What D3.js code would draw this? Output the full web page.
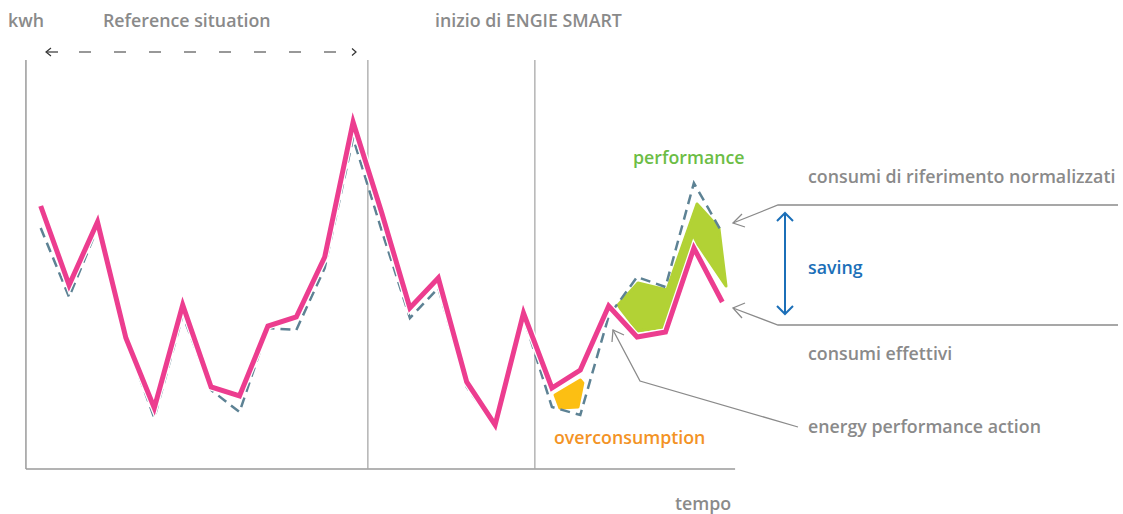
<!DOCTYPE html>
<html>
<head>
<meta charset="utf-8">
<script src="https://cdn.jsdelivr.net/npm/d3@7"></script>
<style>
  body { margin: 0; background: #fff; }
  text { font-family: "Open Sans", sans-serif; font-weight: 600; }
</style>
</head>
<body>
<script>
// consumi effettivi (kwh), one value per period
const actual = [263, 184, 247, 131, 61, 164, 82, 73, 143, 152, 212, 347, 257,
  161, 191, 87, 44, 156, 81, 99, 163, 132, 137, 221, 167];
// consumi di riferimento normalizzati
const reference = [241, 172, 241, 129, 51, 154, 79, 57, 141, 139, 201, 331, 239,
  151, 181, 82, 42, 152, 62, 54, 153, 192, 182, 286, 236];
// shaded areas [period, kwh]
const performanceArea = [[20.33, 164], [21.03, 186], [22.05, 179], [23.11, 265], [23.88, 241],
  [24.13, 183], [23.11, 226], [21.98, 142], [21.03, 138], [20.4, 161]];
const overArea = [[18.11, 74], [19.0, 89], [19.09, 86], [18.92, 62], [18.28, 61]];
// period markers: end of reference situation, start of ENGIE SMART
const markers = [11.52, 17.4];

const W = 1123, H = 514;
const grey = '#8a8a8a';

const svg = d3.select('body').append('svg')
  .attr('width', W).attr('height', H);

const x = d3.scaleLinear().domain([0, 24]).range([40.7, 722.3]);
const y = d3.scaleLinear().domain([0, 409]).range([469, 60]);

// axes frame
svg.append('line').attr('x1', x(-0.52)).attr('x2', x(-0.52)).attr('y1', y(409)).attr('y2', y(0))
  .attr('stroke', '#9a9a9a').attr('stroke-width', 1.5);
svg.append('line').attr('x1', x(-0.52)).attr('x2', x(24.45)).attr('y1', y(0)).attr('y2', y(0))
  .attr('stroke', '#9a9a9a').attr('stroke-width', 1.5);
svg.selectAll('.marker').data(markers).enter().append('line')
  .attr('x1', d => x(d)).attr('x2', d => x(d)).attr('y1', y(409)).attr('y2', y(0))
  .attr('stroke', '#a8a8a8').attr('stroke-width', 1.3);

// shaded areas
const poly = d3.line().x(d => x(d[0])).y(d => y(d[1])).curve(d3.curveLinearClosed);
svg.append('path').attr('d', poly(performanceArea))
  .attr('fill', '#b2d235').attr('stroke', '#b2d235').attr('stroke-width', 3).attr('stroke-linejoin', 'round');
svg.append('path').attr('d', poly(overArea))
  .attr('fill', '#fcbf13').attr('stroke', '#fcbf13').attr('stroke-width', 3).attr('stroke-linejoin', 'round');

const line = d3.line().x((d, i) => x(i)).y(d => y(d));

svg.append('path').attr('d', line(reference))
  .attr('fill', 'none').attr('stroke', '#5d8294').attr('stroke-width', 2.5)
  .attr('stroke-dasharray', '10,6');

// white halo under actual line
svg.append('path').attr('d', line(actual))
  .attr('fill', 'none').attr('stroke', '#fff').attr('stroke-width', 7.5);
svg.append('path').attr('d', line(actual))
  .attr('fill', 'none').attr('stroke', '#ec3d8f').attr('stroke-width', 5);

// texts
const txt = (tx, ty, s, col) => svg.append('text').attr('x', tx).attr('y', ty)
  .attr('font-size', 17.8).attr('fill', col || grey).text(s);
txt(8, 27, 'kwh');
txt(103, 27, 'Reference situation');
txt(435, 27, 'inizio di ENGIE SMART');
txt(633, 164, 'performance', '#6cbd45');
txt(808, 183, 'consumi di riferimento normalizzati');
txt(808, 274, 'saving', '#1b6fb8');
txt(808, 360, 'consumi effettivi');
txt(808, 433, 'energy performance action');
txt(554, 444, 'overconsumption', '#f39325');
txt(675, 510, 'tempo');

// reference period arrow
const ar = svg.append('g').attr('stroke', '#333').attr('stroke-width', 1.2).attr('fill', 'none');
ar.append('line').attr('x1', 47).attr('x2', 58).attr('y1', 52).attr('y2', 52);
ar.append('path').attr('d', 'M51,48 L46,52 L51,56');
ar.append('line').attr('x1', 79).attr('x2', 345).attr('y1', 52).attr('y2', 52)
  .attr('stroke-dasharray', '12,23');
ar.append('path').attr('d', 'M352,48.5 L356,52 L352,55.5');

// pointer lines
const pg = svg.append('g').attr('stroke', '#8a8a8a').attr('stroke-width', 1.3).attr('fill', 'none');
pg.append('path').attr('d', 'M733,223 L778,205 L1118,205');
pg.append('path').attr('d', 'M742,214 L733,223 L745,227');
pg.append('path').attr('d', 'M733,308 L778,325 L1118,325');
pg.append('path').attr('d', 'M745,303 L733,308 L742,318');
pg.append('path').attr('d', 'M613,330 L640,381 L798,427');
pg.append('path').attr('d', 'M612,342 L613,330 L624,335');

// saving arrow
const sg = svg.append('g').attr('stroke', '#1b6fb8').attr('stroke-width', 2).attr('fill', 'none');
sg.append('line').attr('x1', 785).attr('x2', 785).attr('y1', 213).attr('y2', 314);
sg.append('path').attr('d', 'M777,221 L785,213 L793,221');
sg.append('path').attr('d', 'M777,306 L785,314 L793,306');
</script>
</body>
</html>
